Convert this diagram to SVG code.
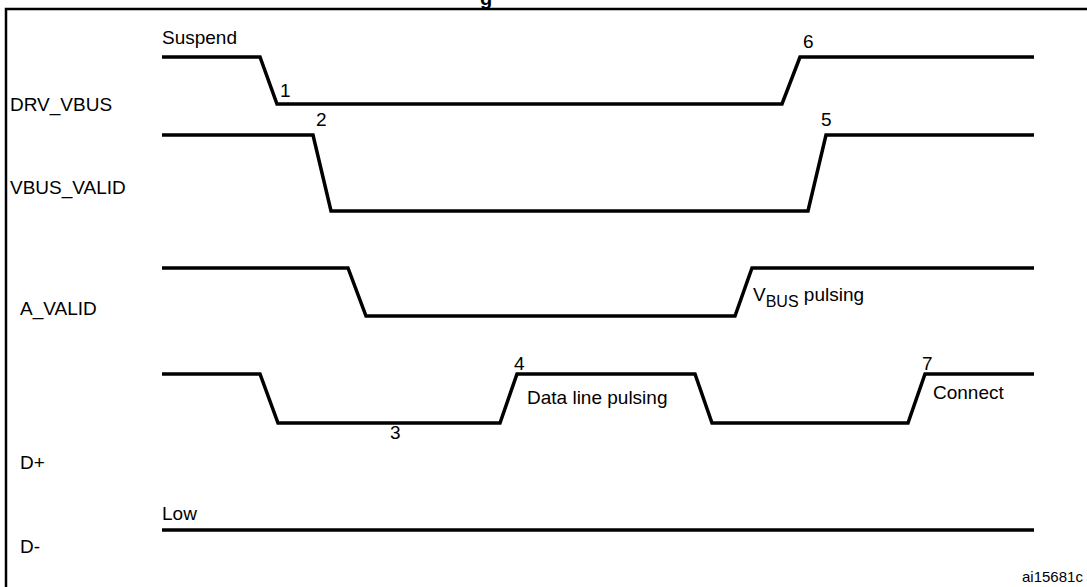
<svg xmlns="http://www.w3.org/2000/svg" width="1087" height="587" viewBox="0 0 1087 587">
<style>
text{font-family:"Liberation Sans",Arial,sans-serif;font-size:19px;fill:#000}
.w{fill:none;stroke:#000;stroke-width:3.5;stroke-linejoin:miter}
.s{font-size:15px}
</style>
<rect x="0" y="0" width="1087" height="587" fill="#fff"/>
<text x="480" y="5" style="font-weight:bold;font-size:20px">g</text>
<rect x="6" y="9" width="1090" height="590" fill="none" stroke="#000" stroke-width="2.5"/>
<g id="labels">
<text x="10" y="111">DRV_VBUS</text>
<text x="10" y="194">VBUS_VALID</text>
<text x="20" y="315">A_VALID</text>
<text x="20" y="469">D+</text>
<text x="20" y="553">D-</text>
</g>
<g id="connectors">
<path id="drv" class="w" d="M162,57H260L277,104H782L800,57H1034"/>
<path id="vbus" class="w" d="M162,135H313L331,211H808L826,135H1034"/>
<path id="aval" class="w" d="M162,268H348L366,316H735L752,268H1034"/>
<path id="dp" class="w" d="M162,374H260L278,423H500L517,374H695L712,423H908L925,374H1034"/>
<path id="dm" class="w" d="M162,530H1034"/>
</g>
<g id="annotations">
<text x="162" y="44">Suspend</text>
<text x="280" y="97">1</text>
<text x="803" y="48">6</text>
<text x="316" y="126">2</text>
<text x="821" y="126">5</text>
<text x="753" y="301">V<tspan dy="6" font-size="16">BUS</tspan><tspan dy="-6"> pulsing</tspan></text>
<text x="390" y="439">3</text>
<text x="514" y="370">4</text>
<text x="527" y="404">Data line pulsing</text>
<text x="922" y="370">7</text>
<text x="933" y="399">Connect</text>
<text x="162" y="520">Low</text>
<text x="1022" y="582" class="s">ai15681c</text>
</g>
</svg>
